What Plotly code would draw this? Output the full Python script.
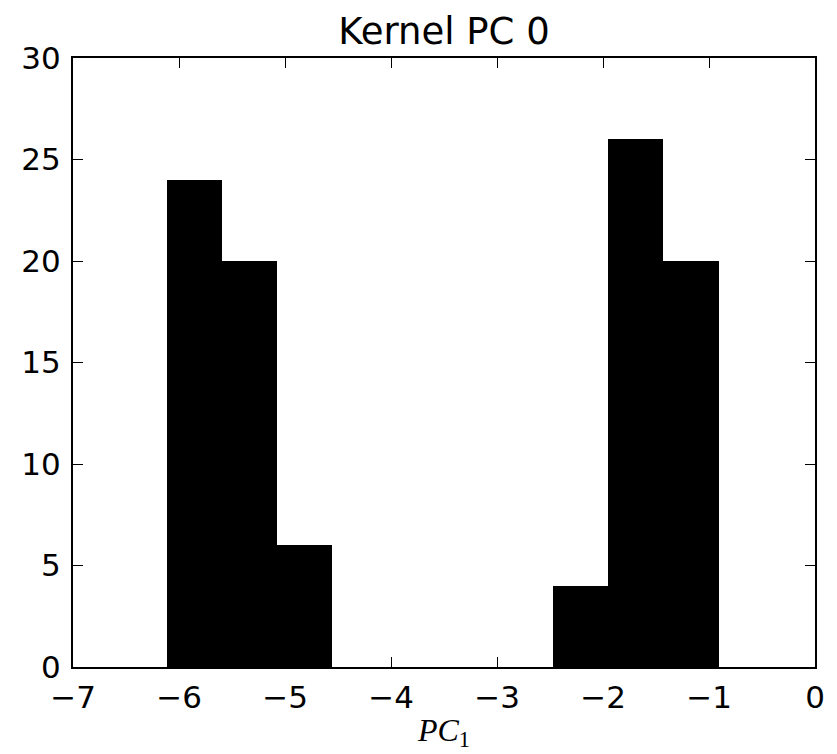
import plotly.graph_objects as go

# Histogram bin edges and counts
bin_edges = [-6.114, -5.594, -5.073, -4.553, -4.032, -3.512, -2.991, -2.471, -1.950, -1.430, -0.909]
counts = [24, 20, 6, 0, 0, 0, 0, 4, 26, 20]

x_ticks = [-7, -6, -5, -4, -3, -2, -1, 0]
x_tick_labels = ["\u22127", "\u22126", "\u22125", "\u22124", "\u22123", "\u22122", "\u22121", "0"]
y_ticks = [0, 5, 10, 15, 20, 25, 30]

centers = [(a + b) / 2 for a, b in zip(bin_edges[:-1], bin_edges[1:])]
widths = [b - a for a, b in zip(bin_edges[:-1], bin_edges[1:])]

fig = go.Figure()
fig.add_trace(go.Bar(
    x=centers, y=counts, width=widths,
    marker=dict(color="black", line=dict(width=0)),
    showlegend=False,
))

axis_common = dict(
    showline=True, linecolor="black", linewidth=2, mirror="ticks",
    ticks="inside", ticklen=10, tickwidth=1, tickcolor="black",
    showgrid=False, zeroline=False,
    tickfont=dict(family="DejaVu Sans", size=31, color="black"),
)

fig.update_layout(
    width=837, height=754,
    margin=dict(l=73, r=16, t=58, b=78),
    paper_bgcolor="white", plot_bgcolor="white",
    bargap=0,
    title=dict(text="Kernel PC 0", x=0.5, xref="paper", xanchor="center",
               y=1 - 31 / 754, yref="container", yanchor="middle",
               font=dict(family="DejaVu Sans", size=37, color="black")),
    xaxis=dict(range=[-7, 0], tickvals=x_ticks, ticktext=x_tick_labels,
               ticklabelstandoff=2,
               title=dict(text="<i>PC</i><sub>1</sub>", standoff=4,
                          font=dict(family="Liberation Serif", size=32, color="black")),
               **axis_common),
    yaxis=dict(range=[0, 30], tickvals=y_ticks, ticklabelstandoff=4, **axis_common),
)

fig.write_html("out.html")
